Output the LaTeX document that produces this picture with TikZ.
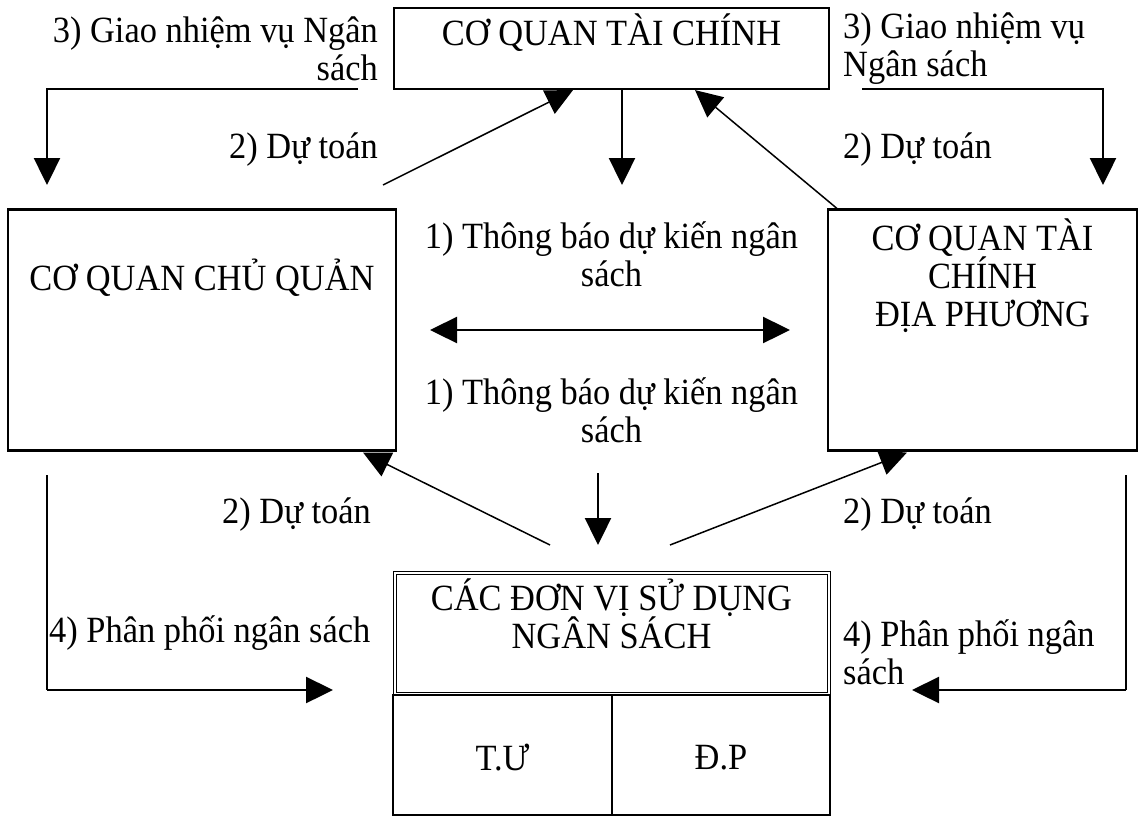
\documentclass[tikz,border=0pt]{standalone}
\usepackage{fontspec}
\setmainfont{Liberation Serif}[FakeStretch=0.93]
\usetikzlibrary{arrows.meta}
\begin{document}
\begin{tikzpicture}[x=1pt,y=-1pt,
  font=\fontsize{37}{38}\selectfont,
  box/.style={draw, line width=2.2pt, inner sep=0pt},
  txt/.style={inner sep=0pt, align=center},
  thickarrow/.style={line width=2.4pt, -{Triangle[length=27pt,width=26pt]}},
  thinarrow/.style={line width=1.5pt, -{Triangle[length=27pt,width=26pt]}},
  botharrow/.style={line width=2.4pt, {Triangle[length=27pt,width=26pt]}-{Triangle[length=27pt,width=26pt]}}]
\useasboundingbox (0,0) rectangle (1145,817);

% boxes
\node[box, minimum width=435pt, minimum height=81pt] (top) at (611.5,48.5) {};
\node[box, minimum width=388pt, minimum height=241pt] (left) at (202,330) {};
\node[box, minimum width=309pt, minimum height=241pt] (right) at (982.5,330) {};
\node[draw, line width=1pt, inner sep=0pt,
      minimum width=437pt, minimum height=124pt] (units) at (611.5,633.5) {};
\node[draw, line width=1pt, inner sep=0pt,
      minimum width=431pt, minimum height=118pt] (unitsin) at (611.5,633.5) {};
\node[box, line width=1.6pt, minimum width=219pt, minimum height=120pt] (tu) at (502.5,755) {};
\node[box, line width=1.6pt, minimum width=218pt, minimum height=120pt] (dp) at (721,755) {};

% box texts
\node[txt] (toptxt) at (611.5,33) {CƠ QUAN TÀI CHÍNH};
\node[txt] (lefttxt) at (202,278) {CƠ QUAN CHỦ QUẢN};
\node[txt] (righttxt) at (982.5,276) {CƠ QUAN TÀI\\CHÍNH\\ĐỊA PHƯƠNG};
\node[txt] (unitstxt) at (611.5,614) {CÁC ĐƠN VỊ SỬ DỤNG\\NGÂN SÁCH};
\node[txt] (tutxt) at (502.5,758) {T.Ư};
\node[txt] (dptxt) at (721,758) {Đ.P};

% labels
\node[txt, anchor=east, align=right] (l3a) at (378,49) {3) Giao nhiệm vụ Ngân\\sách};
\node[txt, anchor=west, align=left] (l3b) at (843,49) {3) Giao nhiệm vụ\\Ngân sách};
\node[txt, anchor=east] (l2a) at (378,150) {2) Dự toán};
\node[txt, anchor=west] (l2b) at (843,150) {2) Dự toán};
\node[txt] (l1a) at (611.5,254) {1) Thông báo dự kiến ngân\\sách};
\node[txt] (l1b) at (611.5,410) {1) Thông báo dự kiến ngân\\sách};
\node[txt, anchor=east] (l2c) at (371,515) {2) Dự toán};
\node[txt, anchor=west] (l2d) at (843,515) {2) Dự toán};
\node[txt, anchor=west] (l4a) at (49,633) {4) Phân phối ngân sách};
\node[txt, anchor=west, align=left] (l4b) at (843,652) {4) Phân phối ngân\\sách};

% free-end coordinates
\coordinate (tlstart) at (358,89);
\coordinate (tlend) at (47,185);
\coordinate (trstart) at (862,89);
\coordinate (trend) at (1103,185);
\coordinate (tcend) at (622,185);
\coordinate (dlstart) at (383,185);
\coordinate (hl) at (430,330);
\coordinate (hr) at (790,330);
\coordinate (cdstart) at (598,473);
\coordinate (cdend) at (598,545);
\coordinate (blstart) at (550,545);
\coordinate (brstart) at (670,545);
\coordinate (lvstart) at (47,475);
\coordinate (lend) at (333,690);
\coordinate (rvstart) at (1126,475);
\coordinate (rend) at (912,690);

% connectors
\draw[thickarrow] (tlstart) -| (tlend);
\draw[thickarrow] (trstart) -| (trend);
\draw[thickarrow] ([xshift=10.5pt]top.south) -- (tcend);
\draw[thinarrow] (dlstart) -- ([xshift=-38.5pt]top.south);
\draw[thinarrow] ([xshift=10pt]right.north west) -- ([xshift=83.5pt]top.south);
\draw[botharrow] (hl) -- (hr);
\draw[thickarrow] (cdstart) -- (cdend);
\draw[thinarrow] (blstart) -- ([xshift=-34pt,yshift=-1pt]left.south east);
\draw[thinarrow] (brstart) -- ([xshift=80pt,yshift=-1pt]right.south west);
\draw[line width=1.4pt] (lvstart) -- (47,690);
\draw[thickarrow] (47,690) -- (lend);
\draw[line width=2.2pt] (rvstart) -- (1126,690);
\draw[thickarrow] (1126,690) -- (rend);
\end{tikzpicture}
\end{document}
